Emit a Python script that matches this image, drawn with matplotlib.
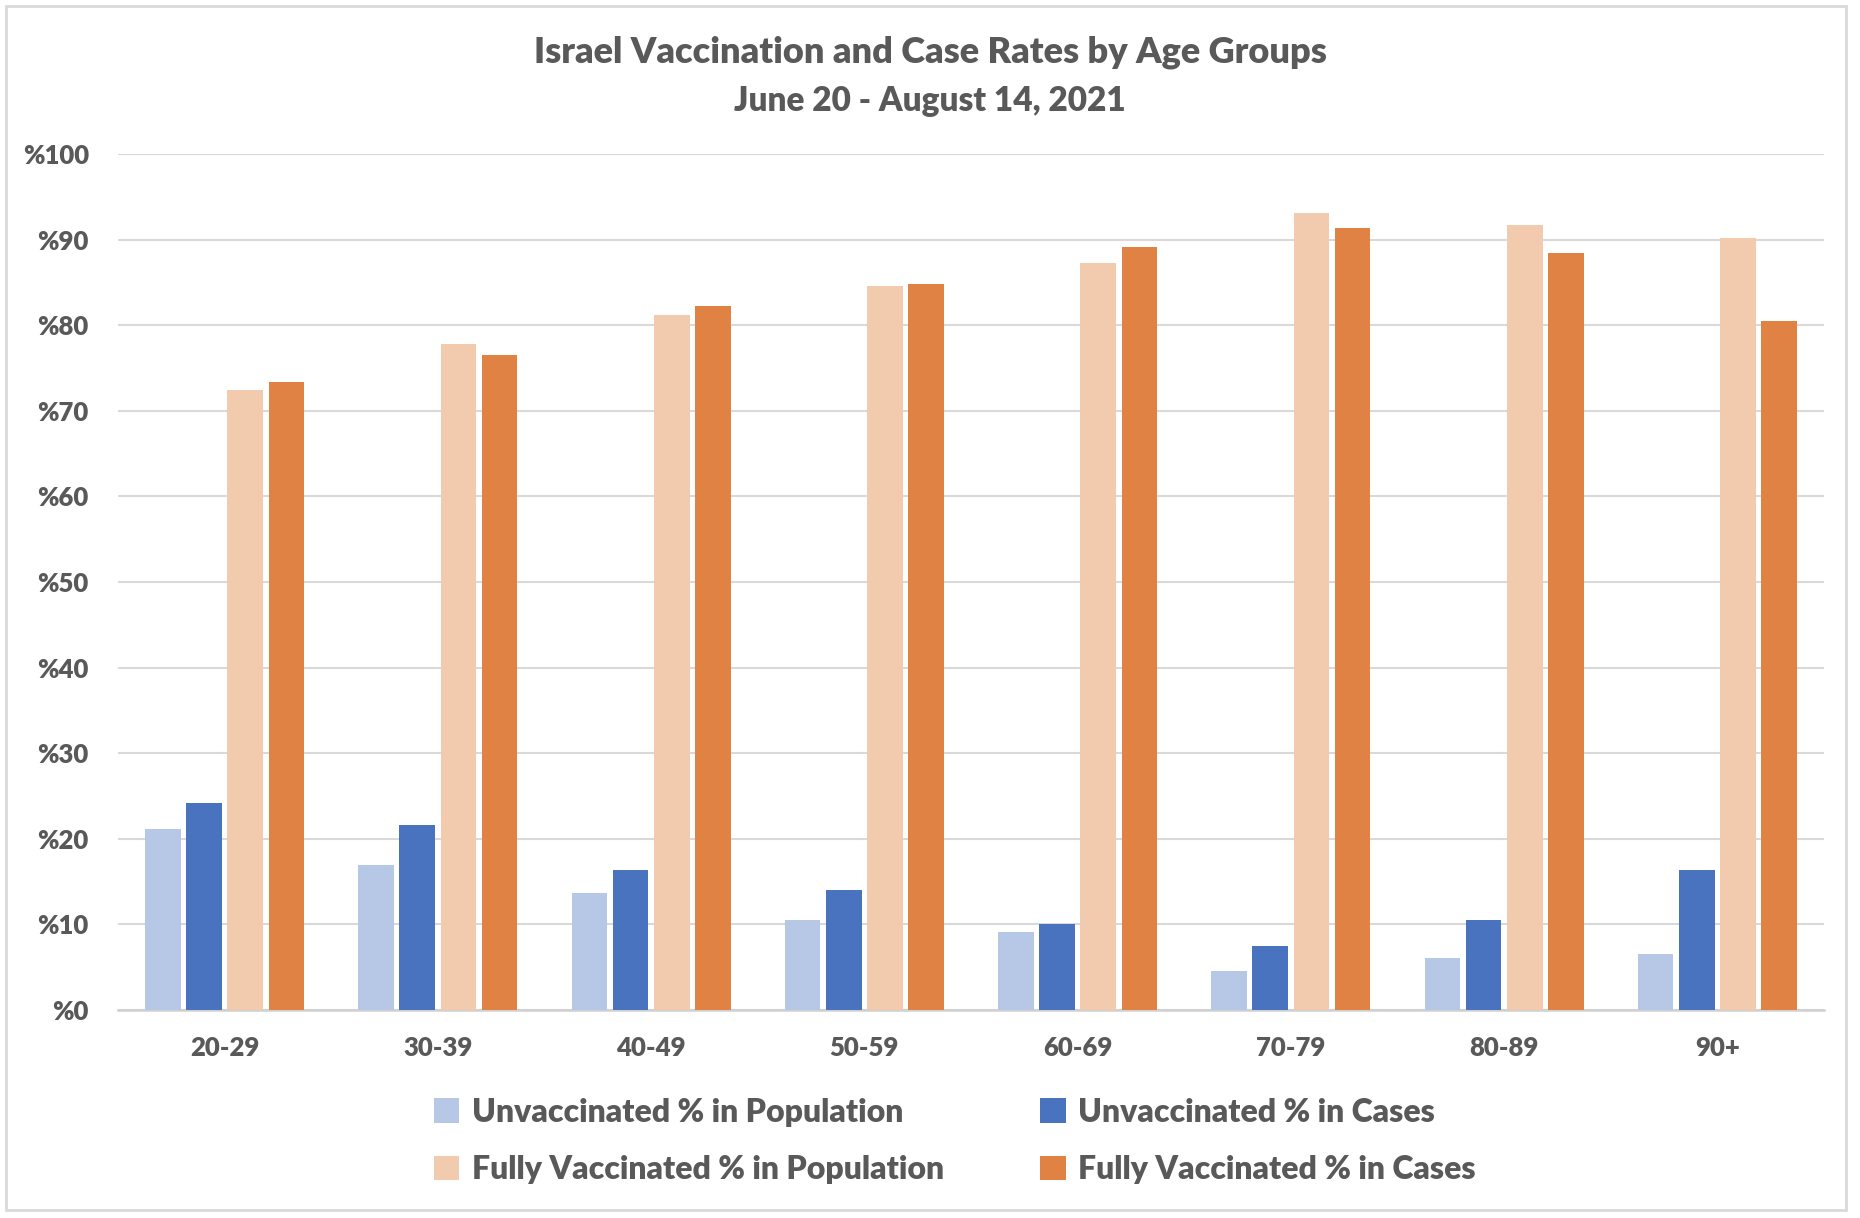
import matplotlib
matplotlib.use("Agg")
import matplotlib.pyplot as plt
import numpy as np
from matplotlib.patches import Rectangle

categories = ["20-29", "30-39", "40-49", "50-59", "60-69", "70-79", "80-89", "90+"]
unvax_pop = [21.2, 16.9, 13.7, 10.5, 9.1, 4.6, 6.1, 6.6]
unvax_cases = [24.2, 21.6, 16.3, 14.0, 10.0, 7.5, 10.5, 16.3]
full_pop = [72.4, 77.8, 81.2, 84.6, 87.3, 93.1, 91.7, 90.2]
full_cases = [73.4, 76.5, 82.3, 84.8, 89.1, 91.4, 88.4, 80.5]
series_names = ["Unvaccinated % in Population", "Unvaccinated % in Cases",
                "Fully Vaccinated % in Population", "Fully Vaccinated % in Cases"]
yticks = [0, 10, 20, 30, 40, 50, 60, 70, 80, 90, 100]

colors = ["#B6C8E6", "#4A73BF", "#F2CBAE", "#E08243"]
text_color = "#595959"
font = "Lato"
W = 'heavy'

plt.rcParams['font.family'] = [font, 'DejaVu Sans']
plt.rcParams['font.weight'] = W

fig = plt.figure(figsize=(18.6, 12.18), dpi=100)
ax = fig.add_axes([118/1860, 1 - 1010/1218, (1824-118)/1860, (1010-154)/1218])

x = np.arange(len(categories))
width = 0.167
pitch = 0.193
offsets = [-1.5*pitch, -0.5*pitch, 0.5*pitch, 1.5*pitch]
data = [unvax_pop, unvax_cases, full_pop, full_cases]
handles = []
for d, off, c, name in zip(data, offsets, colors, series_names):
    b = ax.bar(x + off, d, width, color=c, label=name, zorder=3)
    handles.append(b)

ax.set_xlim(-0.5, len(categories) - 0.5)
ax.set_ylim(0, 100)
ax.set_yticks(yticks)
ax.set_yticklabels([f"%{v}" for v in yticks], fontsize=18.5, color=text_color, fontweight=W)
ax.set_xticks(x)
ax.set_xticklabels(categories, fontsize=18.5, color=text_color, fontweight=W)
ax.tick_params(axis='both', length=0)
ax.tick_params(axis='y', pad=21)
ax.tick_params(axis='x', pad=19)
ax.grid(axis='y', color="#D9D9D9", linewidth=1.5, zorder=0)
for s in ['top', 'right', 'left']:
    ax.spines[s].set_visible(False)
ax.spines['bottom'].set_color("#D0D0D0")
ax.spines['bottom'].set_linewidth(1.8)

fig.text(0.5, 1 - 52/1218, "Israel Vaccination and Case Rates by Age Groups", ha='center', va='center',
         fontsize=26, color=text_color, fontweight=W)
fig.text(0.5, 1 - 101/1218, "June 20 - August 14, 2021", ha='center', va='center',
         fontsize=24, color=text_color, fontweight=W)

order = [0, 2, 1, 3]
leg = fig.legend([handles[i] for i in order], [series_names[i] for i in order],
                 ncol=2, loc='center left', bbox_to_anchor=(405/1860, 1 - 1141/1218),
                 frameon=False, handlelength=0.8, handleheight=0.8,
                 handletextpad=0.4, columnspacing=3.0, labelspacing=0.9,
                 prop={'family': font, 'weight': W, 'size': 23})
for t in leg.get_texts():
    t.set_color(text_color)

fig.patches.append(Rectangle((6/1860, 8/1218), (1846-6)/1860, (1212-8)/1218, transform=fig.transFigure,
                             fill=False, edgecolor="#D9D9D9", linewidth=2))

fig.savefig("out.png", dpi=100)
